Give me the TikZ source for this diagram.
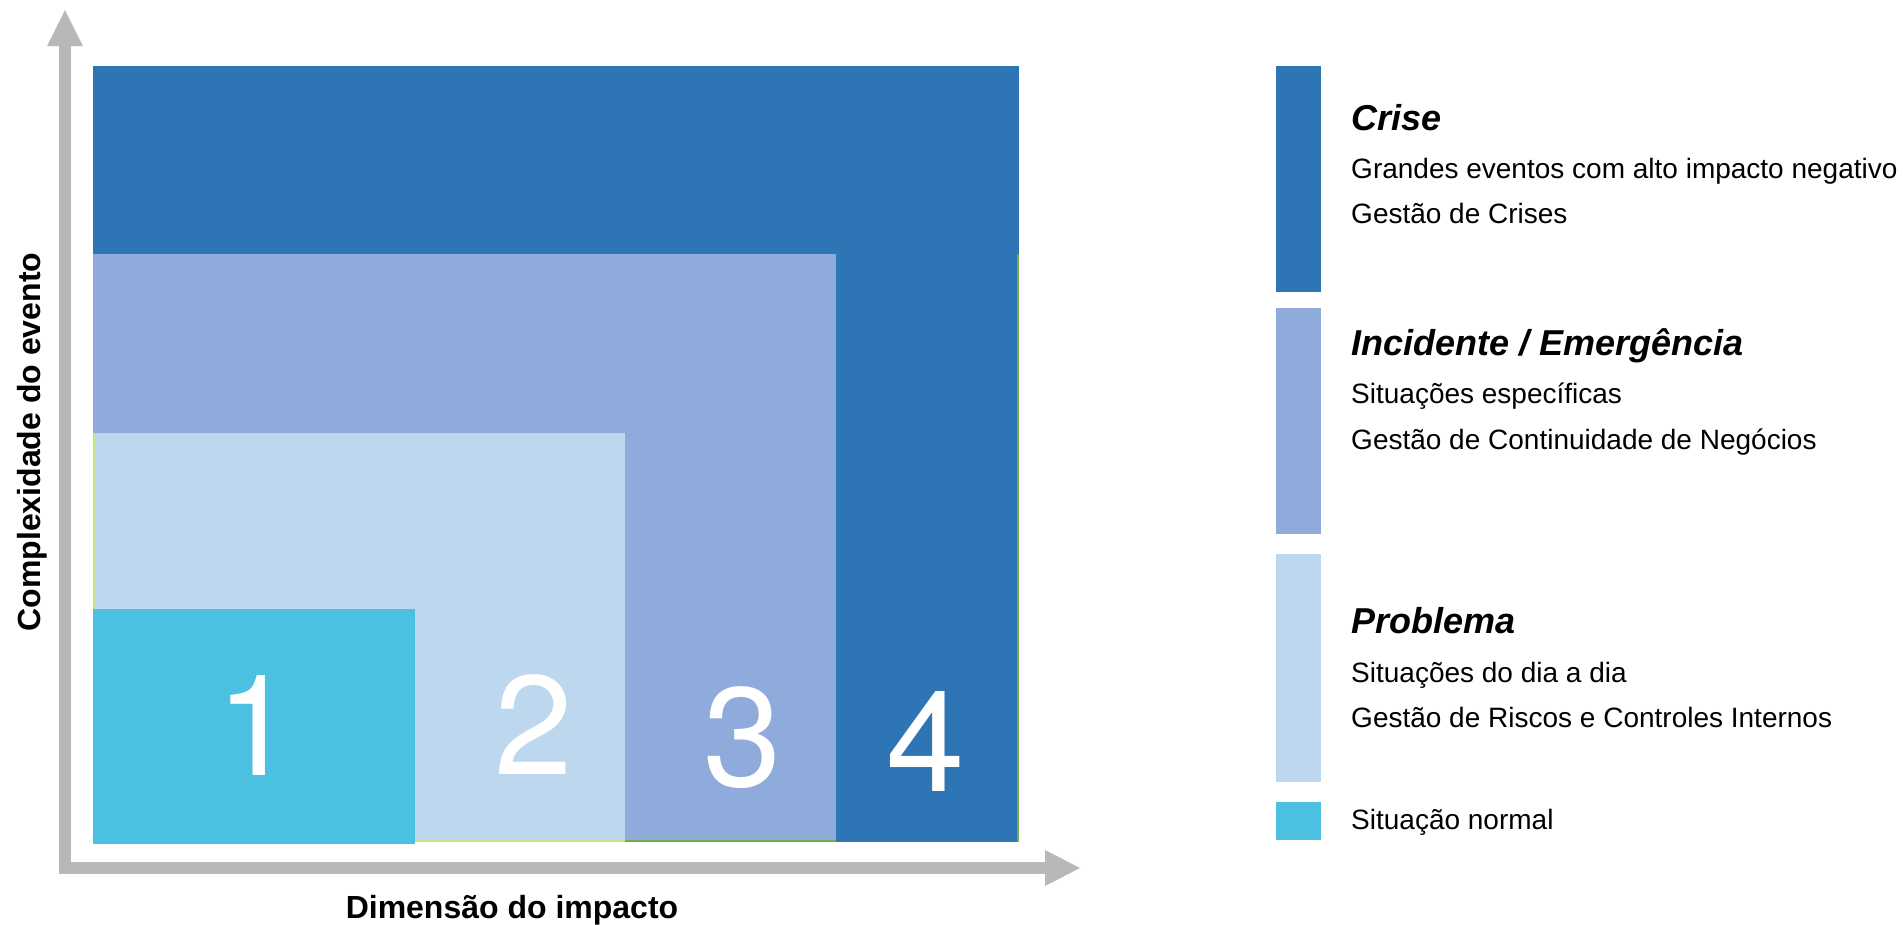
\documentclass[tikz,border=0pt]{standalone}
\usepackage{fontspec}
\setmainfont{Liberation Sans}
\newfontfamily\digitfont{TeX Gyre Heros}
\definecolor{crise}{RGB}{46,117,182}
\definecolor{incid}{RGB}{143,171,220}
\definecolor{probl}{RGB}{189,215,238}
\definecolor{normal}{RGB}{75,192,224}
\definecolor{axisgray}{RGB}{184,184,184}
\definecolor{lgreen}{RGB}{196,228,130}
\definecolor{dgreen}{RGB}{112,173,71}
\tikzset{
  legtxt/.style={anchor=base west, inner sep=0pt, font=\fontsize{28}{34}\selectfont},
  leghead/.style={anchor=base west, inner sep=0pt, font=\fontsize{36}{42}\selectfont\bfseries\itshape},
  digit/.style={anchor=base, inner sep=0pt, text=white, font=\digitfont\fontsize{141}{141}\selectfont},
  axlabel/.style={inner sep=0pt, font=\fontsize{32}{38}\selectfont\bfseries},
}
\begin{document}
\begin{tikzpicture}[x=1pt,y=-1pt]
\useasboundingbox (0,0) rectangle (1903,924);
% nested regions
\fill[crise] (93,66) rectangle (1019,842);
\fill[dgreen] (1017,254) rectangle (1019,842);
\fill[incid] (93,254) rectangle (836,840);
\fill[dgreen] (625,840) rectangle (836,842);
\fill[probl] (93,433) rectangle (625,840);
\fill[lgreen] (415,840) rectangle (625,842);
\fill[lgreen] (93,433) rectangle (94.5,609);
\fill[normal] (93,609) rectangle (415,844);
% digits
\node[digit] (d1) at (256,775) {1};
\node[digit] (d2) at (534,774) {2};
\node[digit] (d3) at (743,786) {3};
\node[digit] (d4) at (926,791) {4};
% axes
\fill[axisgray] (59,46) rectangle (71,874);
\fill[axisgray] (47,46) -- (65,10) -- (83,46) -- cycle;
\fill[axisgray] (59,862) rectangle (1045,874);
\fill[axisgray] (1045,850) -- (1080,868) -- (1045,886) -- cycle;
\node[axlabel, anchor=base] (xl) at (512,918) {Dimensão do impacto};
\node[axlabel, anchor=base, rotate=90] (yl) at (40,442) {Complexidade do evento};
% legend
\fill[crise] (1276,66) rectangle (1321,292);
\fill[incid] (1276,308) rectangle (1321,534);
\fill[probl] (1276,554) rectangle (1321,782);
\fill[normal] (1276,802) rectangle (1321,840);
\node[leghead] (h1) at (1351,130) {Crise};
\node[legtxt] (t11) at (1351,178) {Grandes eventos com alto impacto negativo};
\node[legtxt] (t12) at (1351,223) {Gestão de Crises};
\node[leghead] (h2) at (1351,355) {Incidente / Emergência};
\node[legtxt] (t21) at (1351,403) {Situações específicas};
\node[legtxt] (t22) at (1351,449) {Gestão de Continuidade de Negócios};
\node[leghead] (h3) at (1351,633) {Problema};
\node[legtxt] (t31) at (1351,682) {Situações do dia a dia};
\node[legtxt] (t32) at (1351,727) {Gestão de Riscos e Controles Internos};
\node[legtxt] (t41) at (1351,829) {Situação normal};
\end{tikzpicture}
\end{document}
